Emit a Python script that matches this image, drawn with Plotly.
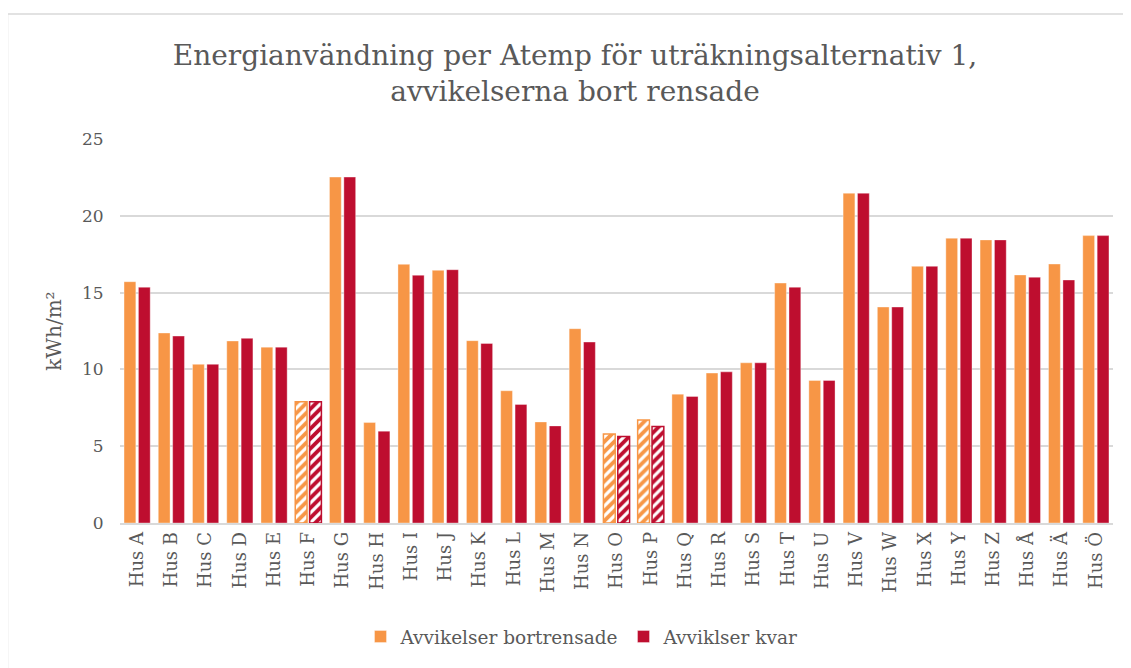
import plotly.graph_objects as go

categories = ["Hus A", "Hus B", "Hus C", "Hus D", "Hus E", "Hus F", "Hus G", "Hus H", "Hus I", "Hus J",
              "Hus K", "Hus L", "Hus M", "Hus N", "Hus O", "Hus P", "Hus Q", "Hus R", "Hus S", "Hus T",
              "Hus U", "Hus V", "Hus W", "Hus X", "Hus Y", "Hus Z", "Hus Å", "Hus Ä", "Hus Ö"]
bortrensade = [15.71, 12.37, 10.33, 11.85, 11.45, 7.89, 22.52, 6.54, 16.84, 16.45,
               11.87, 8.61, 6.58, 12.65, 5.80, 6.71, 8.39, 9.76, 10.43, 15.62,
               9.28, 21.47, 14.06, 16.71, 18.54, 18.43, 16.15, 16.86, 18.71]
kvar = [15.35, 12.17, 10.33, 12.02, 11.45, 7.89, 22.52, 5.98, 16.13, 16.49,
        11.69, 7.72, 6.32, 11.78, 5.63, 6.28, 8.24, 9.84, 10.43, 15.35,
        9.28, 21.47, 14.06, 16.71, 18.54, 18.43, 16.00, 15.82, 18.71]
hatched = ["Hus F", "Hus O", "Hus P"]

ORANGE = "#F79646"
RED = "#BE0E2F"
TXT = "#595959"
FONT = "DejaVu Serif"

def pattern_for(color):
    shapes = ["/" if c in hatched else "" for c in categories]
    return dict(shape=shapes, fgcolor="white", bgcolor=color, size=7, solidity=0.45, fillmode="replace")

def line_for(color):
    return dict(color=[color if c in hatched else "rgba(255,255,255,0.6)" for c in categories],
                width=[1.5 if c in hatched else 0.6 for c in categories])

fig = go.Figure()
fig.add_trace(go.Bar(x=categories, y=bortrensade, name="Avvikelser bortrensade",
                     marker=dict(color=ORANGE, pattern=pattern_for(ORANGE), line=line_for(ORANGE))))
fig.add_trace(go.Bar(x=categories, y=kvar, name="Avviklser kvar",
                     marker=dict(color=RED, pattern=pattern_for(RED), line=line_for(RED))))

# page body has an 8px margin; work in screen pixels and shift
OFF = 8
W, H = 1131 - OFF, 668 - OFF
PL, PR, PT, PB = 120, 1113, 139, 523   # plot area in screen pixels
L, T = PL - OFF, PT - OFF
R, B = W - (PR - OFF), H - (PB - OFF)
pw, ph = PR - PL, PB - PT

def px_x(px):
    return (px - PL) / pw

def px_y(py):
    return (PB - py) / ph

fig.update_layout(
    width=W, height=H,
    margin=dict(l=L, r=R, t=T, b=B, autoexpand=False),
    paper_bgcolor="white", plot_bgcolor="white",
    font=dict(family=FONT, color=TXT),
    title=dict(text="Energianvändning per Atemp för uträkningsalternativ 1,<br>avvikelserna bort rensade",
               x=(575 - OFF) / W, xanchor="center", y=1 - (65 - OFF) / H, yanchor="middle",
               font=dict(size=28, color=TXT, family=FONT)),
    barmode="group", bargap=0.16, bargroupgap=0.18,
    showlegend=True,
    legend=dict(orientation="h", x=px_x(582), xanchor="center", y=px_y(637), yanchor="middle",
                font=dict(size=18.5, color=TXT, family=FONT), itemwidth=30, traceorder="normal"),
    xaxis=dict(tickangle=-90, tickfont=dict(size=18, color=TXT), showgrid=False,
               showline=True, linecolor="#D9D9D9", linewidth=1.5, ticks=""),
    yaxis=dict(range=[0, 25], dtick=5, tickfont=dict(size=17, color=TXT),
               gridcolor="#D9D9D9", gridwidth=1.5, zeroline=False, showline=False,
               ticks="outside", ticklen=12, tickcolor="rgba(0,0,0,0)",
               title=dict(text="kWh/m²", font=dict(size=20, color=TXT), standoff=14)),
    shapes=[dict(type="rect", xref="paper", yref="paper",
                 x0=px_x(7.5), x1=px_x(1150), y0=px_y(690), y1=px_y(14),
                 line=dict(color="#D9D9D9", width=1.5), fillcolor="rgba(0,0,0,0)", layer="below")],
)

fig.write_html("out.html")
